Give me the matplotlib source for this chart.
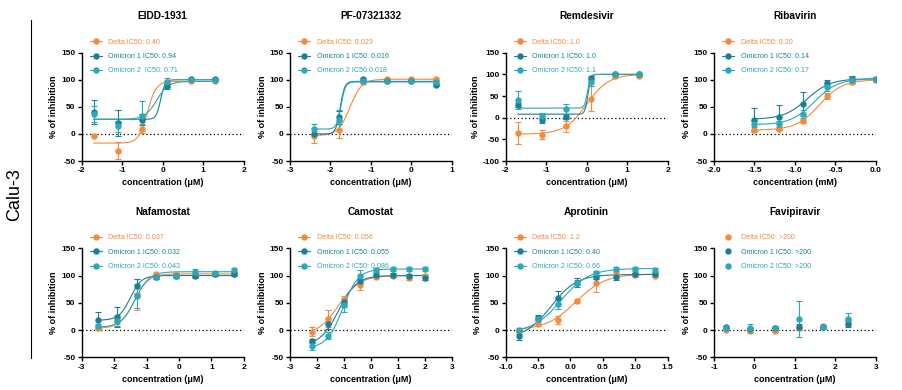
import numpy as np
import matplotlib
matplotlib.use("Agg")
import matplotlib.pyplot as plt
from matplotlib.lines import Line2D

plt.rcParams['font.family'] = ['Liberation Sans', 'DejaVu Sans']
plt.rcParams['axes.unicode_minus'] = False

# colores de las series
c_delta = '#F58A3D'
c_om1 = '#1A7F99'
c_om2 = '#2BA8BA'

series_names = ['Delta', 'Omicron 1', 'Omicron 2']

# --- EIDD-1931 ---
eidd_x = [-1.7, -1.1, -0.5, 0.1, 0.7, 1.3]
eidd_delta = [-3, -31, 10, 96, 98, 98]
eidd_delta_err = [2, 16, 9, 3, 2, 2]
eidd_om1 = [40, 20, 26, 88, 101, 101]
eidd_om1_err = [22, 24, 10, 5, 2, 2]
eidd_om2 = [37, 14, 33, 95, 101, 100]
eidd_om2_err = [15, 10, 27, 8, 2, 2]
eidd_fits = [[-17, 97, -0.38, 4], [27, 100, -0.05, 8], [27, 97, -0.15, 3]]
eidd_labels = ['Delta IC50: 0.40', 'Omicron 1 IC50: 0.94', 'Omicron 2  IC50: 0.71']

# --- PF-07321332 ---
pf_x = [-2.4, -1.8, -1.2, -0.6, 0.0, 0.6]
pf_delta = [-3, 7, 95, 101, 101, 101]
pf_delta_err = [14, 15, 3, 2, 2, 2]
pf_om1 = [0, 31, 101, 97, 97, 91]
pf_om1_err = [2, 12, 2, 2, 2, 2]
pf_om2 = [9, 26, 97, 97, 97, 96]
pf_om2_err = [10, 18, 2, 2, 2, 2]
pf_fits = [[-3, 101, -1.52, 3], [0, 97, -1.76, 8], [9, 96, -1.74, 8]]
pf_labels = ['Delta IC50: 0.029', 'Omicron 1 IC50: 0.016', 'Omicron 2 IC50:0.018']

# --- Remdesivir ---
rem_x = [-1.7, -1.1, -0.5, 0.1, 0.7, 1.3]
rem_delta = [-35, -39, -20, 44, 96, 97]
rem_delta_err = [25, 11, 13, 28, 4, 2]
rem_om1 = [29, -6, 1, 92, 101, 101]
rem_om1_err = [4, 6, 5, 5, 2, 2]
rem_om2 = [41, 4, 20, 82, 101, 101]
rem_om2_err = [21, 7, 12, 8, 2, 2]
rem_fits = [[-38, 100, 0.0, 1.6], [8, 100, 0.03, 12], [22, 100, 0.02, 12]]
rem_labels = ['Delta IC50: 1.0', 'Omicron 1 IC50: 1.0', 'Omicron 2 IC50: 1.1']

# --- Ribavirin (mM) ---
rib_x = [-1.5, -1.2, -0.9, -0.6, -0.3, 0.0]
rib_delta = [7, 10, 24, 70, 96, 100]
rib_delta_err = [3, 3, 4, 6, 4, 3]
rib_om1 = [26, 32, 55, 94, 102, 102]
rib_om1_err = [21, 22, 22, 6, 5, 3]
rib_om2 = [18, 18, 37, 86, 100, 101]
rib_om2_err = [5, 5, 8, 7, 6, 5]
rib_fits = [[7, 100, -0.7, 3], [27, 102, -0.85, 3], [17, 102, -0.76, 3]]
rib_labels = ['Delta IC50: 0.20', 'Omicron 1 IC50: 0.14', 'Omicron 2 IC50: 0.17']

# --- Nafamostat ---
naf_x = [-2.5, -1.9, -1.3, -0.7, -0.1, 0.5, 1.1, 1.7]
naf_delta = [4, 16, 65, 102, 102, 101, 102, 102]
naf_delta_err = [4, 5, 28, 3, 3, 3, 3, 3]
naf_om1 = [19, 24, 81, 97, 99, 99, 103, 103]
naf_om1_err = [15, 18, 13, 3, 3, 4, 4, 4]
naf_om2 = [8, 17, 63, 97, 99, 107, 105, 110]
naf_om2_err = [4, 10, 22, 3, 3, 5, 4, 4]
naf_fits = [[3, 103, -1.38, 2], [18, 100, -1.5, 2.5], [5, 107, -1.35, 2]]
naf_labels = ['Delta IC50: 0.037', 'Omicron 1 IC50: 0.032', 'Omicron 2 IC50: 0.043']

# --- Camostat ---
cam_x = [-2.2, -1.6, -1.0, -0.4, 0.2, 0.8, 1.4, 2.0]
cam_delta = [-3, 21, 56, 83, 98, 100, 96, 100]
cam_delta_err = [8, 16, 6, 10, 3, 3, 5, 3]
cam_om1 = [-20, 12, 51, 90, 101, 101, 99, 95]
cam_om1_err = [4, 10, 8, 4, 3, 3, 3, 3]
cam_om2 = [-29, -10, 46, 99, 110, 112, 112, 112]
cam_om2_err = [7, 6, 12, 12, 3, 3, 3, 3]
cam_fits = [[-10, 100, -1.2, 1.1], [-28, 100, -1.2, 1.3], [-33, 112, -1.05, 1.5]]
cam_labels = ['Delta IC50: 0.056', 'Omicron 1 IC50: 0.055', 'Omicron 2 IC50: 0.086']

# --- Aprotinin ---
apr_x = [-0.8, -0.5, -0.2, 0.1, 0.4, 0.7, 1.0, 1.3]
apr_delta = [-3, 12, 19, 53, 87, 102, 101, 100]
apr_delta_err = [4, 4, 7, 4, 18, 4, 3, 3]
apr_om1 = [-11, 23, 59, 87, 97, 97, 102, 103]
apr_om1_err = [8, 4, 12, 8, 4, 6, 3, 3]
apr_om2 = [0, 20, 47, 87, 104, 112, 112, 110]
apr_om2_err = [3, 5, 8, 4, 5, 3, 3, 3]
apr_fits = [[0, 103, 0.08, 1.9], [-15, 102, -0.3, 2.2], [-5, 113, -0.15, 2]]
apr_labels = ['Delta IC50: 1.2', 'Omicron 1 IC50: 0.40', 'Omicron 2 IC50: 0.66']

# --- Favipiravir (sin ajuste) ---
fav_x = [-0.7, -0.1, 0.5, 1.1, 1.7, 2.3]
fav_delta = [1, -1, -1, 4, 7, 16]
fav_delta_err = [2, 2, 3, 3, 3, 5]
fav_om1 = [5, 2, 4, 6, 5, 12]
fav_om1_err = [2, 2, 3, 5, 3, 6]
fav_om2 = [4, 3, 3, 20, 6, 20]
fav_om2_err = [3, 9, 3, 33, 3, 11]
fav_fits = None
fav_labels = ['Delta IC50: >200', 'Omicron 1 IC50: >200', 'Omicron 2 IC50: >200']

panels = [
    ('EIDD-1931', eidd_x, [eidd_delta, eidd_om1, eidd_om2], [eidd_delta_err, eidd_om1_err, eidd_om2_err],
     eidd_fits, eidd_labels, (-2, 2), np.arange(-2, 3, 1), (-50, 150), 'concentration (μM)', '%d'),
    ('PF-07321332', pf_x, [pf_delta, pf_om1, pf_om2], [pf_delta_err, pf_om1_err, pf_om2_err],
     pf_fits, pf_labels, (-3, 1), np.arange(-3, 2, 1), (-50, 150), 'concentration (μM)', '%d'),
    ('Remdesivir', rem_x, [rem_delta, rem_om1, rem_om2], [rem_delta_err, rem_om1_err, rem_om2_err],
     rem_fits, rem_labels, (-2, 2), np.arange(-2, 3, 1), (-100, 150), 'concentration (μM)', '%d'),
    ('Ribavirin', rib_x, [rib_delta, rib_om1, rib_om2], [rib_delta_err, rib_om1_err, rib_om2_err],
     rib_fits, rib_labels, (-2, 0), np.arange(-2, 0.01, 0.5), (-50, 150), 'concentration (mM)', '%.1f'),
    ('Nafamostat', naf_x, [naf_delta, naf_om1, naf_om2], [naf_delta_err, naf_om1_err, naf_om2_err],
     naf_fits, naf_labels, (-3, 2), np.arange(-3, 3, 1), (-50, 150), 'concentration (μM)', '%d'),
    ('Camostat', cam_x, [cam_delta, cam_om1, cam_om2], [cam_delta_err, cam_om1_err, cam_om2_err],
     cam_fits, cam_labels, (-3, 3), np.arange(-3, 4, 1), (-50, 150), 'concentration (μM)', '%d'),
    ('Aprotinin', apr_x, [apr_delta, apr_om1, apr_om2], [apr_delta_err, apr_om1_err, apr_om2_err],
     apr_fits, apr_labels, (-1, 1.5), np.arange(-1, 1.51, 0.5), (-50, 150), 'concentration (μM)', '%.1f'),
    ('Favipiravir', fav_x, [fav_delta, fav_om1, fav_om2], [fav_delta_err, fav_om1_err, fav_om2_err],
     fav_fits, fav_labels, (-1, 3), np.arange(-1, 4, 1), (-50, 150), 'concentration (μM)', '%d'),
]

colors = [c_delta, c_om1, c_om2]


def hill(x, bottom, top, logic50, h):
    # curva logistica de 4 parametros
    return bottom + (top - bottom) / (1 + 10 ** ((logic50 - x) * h))


fig = plt.figure(figsize=(9.03, 3.9), dpi=100)
W, H = 903.0, 390.0
lefts = [81.7, 290, 505.7, 714]
rows = [(52.7, 161.0), (248.3, 357.3)]
ax_w = 162.0

for i, (title, xs, ys, errs, fits, labels, xlim, xticks, ylim, xlabel, fmt) in enumerate(panels):
    r, c = divmod(i, 4)
    top_px, bot_px = rows[r]
    ax = fig.add_axes([lefts[c] / W, 1 - bot_px / H, ax_w / W, (bot_px - top_px) / H])

    handles = []
    for k in range(3):
        col = colors[k]
        if fits is not None:
            xx = np.linspace(xs[0], xs[-1], 300)
            ax.plot(xx, hill(xx, *fits[k]), color=col, lw=0.8, zorder=2)
        ax.errorbar(xs, ys[k], yerr=errs[k], fmt='o', color=col, ms=3.6, ecolor=col,
                    elinewidth=0.8, capsize=2.3, capthick=0.8, zorder=3)
        if fits is not None:
            handles.append(Line2D([], [], color=col, lw=0.8, marker='o', ms=3.6))
        else:
            handles.append(Line2D([], [], color=col, lw=0, marker='o', ms=3.6))

    ax.axhline(0, color='black', lw=0.9, ls=(0, (1, 2)), zorder=1)

    ax.set_xlim(*xlim)
    ax.set_ylim(*ylim)
    ax.set_xticks(xticks)
    ax.set_xticklabels([fmt % t for t in xticks])
    yt = np.arange(ylim[0], ylim[1] + 1, 50)
    ax.set_yticks(yt)
    ax.set_yticklabels(['%d' % t for t in yt])

    for s in ['top', 'right']:
        ax.spines[s].set_visible(False)
    for s in ['left', 'bottom']:
        ax.spines[s].set_linewidth(1.0)
    ax.tick_params(direction='out', length=3, width=1.0, labelsize=6, pad=1.5)
    for lab in ax.get_xticklabels() + ax.get_yticklabels():
        lab.set_fontweight('bold')

    ax.set_title(title, fontsize=7.3, fontweight='bold', pad=24)
    ax.set_xlabel(xlabel, fontsize=6.5, fontweight='bold', labelpad=3)
    ax.set_ylabel('% of inhibition', fontsize=6.5, fontweight='bold', labelpad=2)

    leg = ax.legend(handles, labels, loc='upper left', bbox_to_anchor=(0.05, 1.13),
                    frameon=False, fontsize=5.1, borderpad=0, borderaxespad=0,
                    handlelength=1.7, handletextpad=0.9, labelspacing=1.05)
    for t, col in zip(leg.get_texts(), colors):
        t.set_color(col)

fig.text(15 / W, 1 - 195 / H, 'Calu-3', rotation=90, fontsize=13, ha='center', va='center')
fig.add_artist(Line2D([31 / W, 31 / W], [1 - 20 / H, 1 - 358 / H], color='black', lw=0.8))

fig.savefig('out.png', dpi=100)
